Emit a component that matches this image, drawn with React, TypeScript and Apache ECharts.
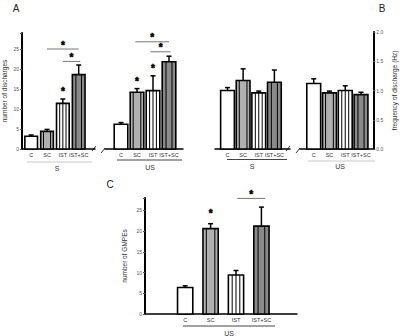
import React, { useEffect, useRef } from 'react';
import * as echarts from 'echarts';

const FONT = 'Liberation Sans, Arial, Helvetica, sans-serif';

const categories = ['C', 'SC', 'IST', 'IST+SC'];

// Panel A: number of discharges
const aSMean = [3.2, 4.4, 11.4, 18.6];
const aSSem = [0.3, 0.5, 1.1, 2.4];
const aSStars = [0, 0, 1, 0];
const aUSMean = [6.2, 14.2, 14.6, 21.8];
const aUSSem = [0.4, 0.9, 3.7, 1.4];
const aUSStars = [0, 1, 1, 0];
// Panel B: frequency of discharge (Hz)
const bSMean = [1.0, 1.17, 0.96, 1.14];
const bSSem = [0.05, 0.2, 0.03, 0.21];
const bUSMean = [1.12, 0.96, 1.0, 0.93];
const bUSSem = [0.08, 0.03, 0.08, 0.04];
const noStars = [0, 0, 0, 0];
// Panel C: number of GMPEs
const cUSMean = [6.4, 20.6, 9.4, 21.2];
const cUSSem = [0.4, 1.2, 1.1, 4.6];
const cUSStars = [0, 1, 0, 0];

// significance brackets: [fromIndex, toIndex, yValue]
const aSSig = [[1, 3, 25], [2, 3.1, 21.9]];
const aUSSig = [[0.9, 3, 26.8], [1.85, 3.1, 24.3]];
const cUSSig = [[2.05, 3.15, 27.9]];

const aTickStep = 5;
const bTickStep = 0.5;
const cTickStep = 5;

const patterns = [
  { fill: '#ffffff', lines: [] as number[] },
  { fill: '#b0b0b0', lines: [0.22, 0.78] },
  { fill: '#ffffff', lines: [0.25, 0.5, 0.75] },
  { fill: '#8a8a8a', lines: [0.28, 0.72] },
];

const starStyle = {
  text: '*',
  fontSize: 10,
  fontWeight: 'bold',
  fill: '#000',
  stroke: '#000',
  lineWidth: 0.5,
  align: 'center',
  verticalAlign: 'middle',
  fontFamily: FONT,
};

function barSeries(idx: number, mean: number[], sem: number[], stars: number[], barW: number, starGap: number) {
  const data = mean.map((m, i) => [i, m, sem[i], i, stars[i]]);
  return {
    type: 'custom',
    xAxisIndex: idx,
    yAxisIndex: idx,
    clip: false,
    itemStyle: { color: '#000' },
    encode: { x: 0, y: 1 },
    data,
    renderItem: (params: any, api: any) => {
      const x = api.value(0);
      const v = api.value(1);
      const s = api.value(2);
      const p = patterns[api.value(3)];
      const star = api.value(4);
      const base = api.coord([x, 0]);
      const top = api.coord([x, v]);
      const err = api.coord([x, v + s]);
      const w = api.size([barW, 0])[0];
      const left = base[0] - w / 2;
      const children: any[] = [
        {
          type: 'rect',
          shape: { x: left, y: top[1], width: w, height: base[1] - top[1] },
          style: { fill: p.fill, stroke: '#000', lineWidth: 1.6 },
        },
      ];
      p.lines.forEach((f: number) => {
        children.push({
          type: 'line',
          shape: { x1: left + w * f, y1: top[1], x2: left + w * f, y2: base[1] },
          style: { stroke: '#000', lineWidth: 1 },
        });
      });
      children.push({
        type: 'line',
        shape: { x1: base[0], y1: top[1], x2: base[0], y2: err[1] },
        style: { stroke: '#000', lineWidth: 1.5 },
      });
      children.push({
        type: 'line',
        shape: { x1: base[0] - 2.5, y1: err[1], x2: base[0] + 2.5, y2: err[1] },
        style: { stroke: '#000', lineWidth: 1.5 },
      });
      if (star) {
        children.push({
          type: 'text',
          x: base[0],
          y: err[1] - starGap,
          style: { ...starStyle },
        });
      }
      children.push({
        type: 'text',
        x: base[0],
        y: base[1] + 3,
        style: {
          text: categories[x],
          fontSize: 5.5,
          fill: '#333',
          align: 'center',
          verticalAlign: 'top',
          fontFamily: FONT,
        },
      });
      return { type: 'group', children };
    },
  };
}

function sigSeries(idx: number, sig: number[][]) {
  return {
    type: 'custom',
    xAxisIndex: idx,
    yAxisIndex: idx,
    clip: false,
    itemStyle: { color: '#000' },
    encode: { x: 0, y: 2 },
    data: sig,
    renderItem: (params: any, api: any) => {
      const a = api.coord([api.value(0), api.value(2)]);
      const b = api.coord([api.value(1), api.value(2)]);
      return {
        type: 'group',
        children: [
          {
            type: 'line',
            shape: { x1: a[0], y1: a[1], x2: b[0], y2: b[1] },
            style: { stroke: '#777', lineWidth: 1 },
          },
          {
            type: 'text',
            x: (a[0] + b[0]) / 2,
            y: a[1] - 4,
            style: { ...starStyle },
          },
        ],
      };
    },
  };
}

function xAxis(gridIndex: number, min: number, max: number) {
  return {
    type: 'value',
    gridIndex,
    min,
    max,
    axisLine: { show: true, onZero: false, lineStyle: { color: '#000', width: 1.5 } },
    axisTick: { show: false },
    axisLabel: { show: false },
    splitLine: { show: false },
  };
}

function yAxis(gridIndex: number, max: number, step: number, show: boolean, extra: any = {}) {
  return {
    type: 'value',
    gridIndex,
    min: 0,
    max,
    interval: step,
    show,
    axisLine: { show: true, onZero: false, lineStyle: { color: '#000', width: 2 } },
    axisTick: { show: true, length: 2, lineStyle: { color: '#555', width: 1 } },
    axisLabel: {
      fontSize: 5,
      color: '#555',
      margin: 3,
      fontFamily: FONT,
      formatter: (v: number) => {
        const k = Math.round(v / step);
        if (Math.abs(k * step - v) > 1e-6) return '';
        return step < 1 ? v.toFixed(1) : String(v);
      },
    },
    splitLine: { show: false },
    nameLocation: 'middle',
    nameRotate: 90,
    nameTextStyle: { fontSize: 6.5, color: '#333', fontFamily: FONT },
    ...extra,
  };
}

const textEl = (text: string, x: number, y: number, fontSize: number, fill = '#222') => ({
  type: 'text',
  x,
  y,
  style: { text, fontSize, fill, align: 'center', verticalAlign: 'middle', fontFamily: FONT },
});
const lineEl = (x1: number, y1: number, x2: number, y2: number, stroke: string, lineWidth = 1) => ({
  type: 'line',
  shape: { x1, y1, x2, y2 },
  style: { stroke, lineWidth },
});

export default function App() {
  const ref = useRef<HTMLDivElement>(null);
  useEffect(() => {
    if (!ref.current) return;
    const chart = echarts.init(ref.current, undefined, { renderer: 'svg' });
    chart.setOption({
      animation: false,
      backgroundColor: '#ffffff',
      color: ['#000'],
      textStyle: { fontFamily: FONT },
      grid: [
        { left: 21, top: 33, width: 74, height: 116 },
        { left: 105, top: 33, width: 78, height: 116 },
        { left: 215, top: 32, width: 75, height: 117 },
        { left: 300, top: 32, width: 73.3, height: 117 },
        { left: 145, top: 198, width: 152, height: 116 },
      ],
      xAxis: [
        xAxis(0, -0.58, 4.03),
        xAxis(1, -1.0, 3.875),
        xAxis(2, -0.8, 4.0),
        xAxis(3, -0.87, 3.78),
        xAxis(4, -1.58, 4.4),
      ],
      yAxis: [
        yAxis(0, 29, aTickStep, true, { name: 'number of discharges', nameGap: 14 }),
        yAxis(1, 29, aTickStep, false),
        yAxis(2, 2, bTickStep, false),
        yAxis(3, 2, bTickStep, true, {
          position: 'right',
          name: 'frequency of discharge (Hz)',
          nameGap: 18,
          nameRotate: 90,
        }),
        yAxis(4, 28, cTickStep, true, { name: 'number of GMPEs', nameGap: 17 }),
      ],
      series: [
        barSeries(0, aSMean, aSSem, aSStars, 0.8, 8),
        barSeries(1, aUSMean, aUSSem, aUSStars, 0.85, 7),
        barSeries(2, bSMean, bSSem, noStars, 0.88, 7),
        barSeries(3, bUSMean, bUSSem, noStars, 0.88, 7),
        barSeries(4, cUSMean, cUSSem, cUSStars, 0.6, 10),
        sigSeries(0, aSSig),
        sigSeries(1, aUSSig),
        sigSeries(4, cUSSig),
      ],
      graphic: [
        textEl('A', 16, 8, 10),
        textEl('B', 382, 8, 10),
        textEl('C', 110, 184, 10),
        // group underlines and labels
        lineEl(27, 162, 92, 162, '#c8c8c8'),
        textEl('S', 57, 168, 7, '#333'),
        lineEl(117, 160, 182, 160, '#444'),
        textEl('US', 150, 167, 7, '#333'),
        lineEl(227, 159.5, 287, 159.5, '#444'),
        textEl('S', 252, 166, 7, '#333'),
        lineEl(308, 161, 375, 161, '#c8c8c8'),
        textEl('US', 340, 166, 7, '#333'),
        lineEl(183, 326, 275, 326, '#444'),
        textEl('US', 229, 333, 7, '#333'),
        // axis break marks
        lineEl(92, 151, 96, 146, '#000', 0.8),
        lineEl(101, 153, 105, 148, '#000', 0.8),
        lineEl(286, 151, 290, 146, '#000', 0.8),
        lineEl(296, 153, 300, 148, '#000', 0.8),
      ],
    });
    return () => chart.dispose();
  }, []);
  return <div ref={ref} style={{ position: 'fixed', left: 0, top: 0, width: 400, height: 336 }} />;
}
